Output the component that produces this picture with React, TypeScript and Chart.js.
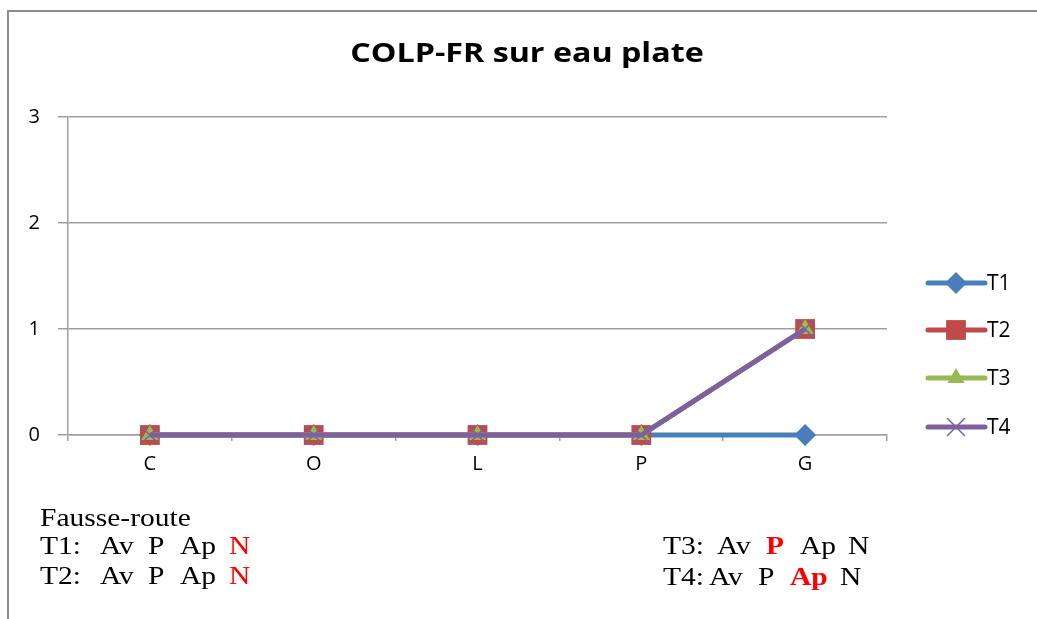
import React, { useEffect, useRef } from "react";
import { Chart, registerables } from "chart.js";

Chart.register(...registerables);

const categories = ["C", "O", "L", "P", "G"];
const seriesNames = ["T1", "T2", "T3", "T4"];
const t1Values = [0, 0, 0, 0, 0];
const t2Values = [0, 0, 0, 0, 1];
const t3Values = [0, 0, 0, 0, 1];
const t4Values = [0, 0, 0, 0, 1];
const yTicks = [0, 1, 2, 3];
const titleText = "COLP-FR sur eau plate";

const colors = ["#4A7EBB", "#BE4B48", "#98B954", "#7D60A0"];
const pointStyles = ["rectRot", "rect", "triangle", "crossRot"];
const pointRadii = [11, 14, 10, 12];

function drawPoint(ctx: CanvasRenderingContext2D, style: string, r: number, x: number, y: number) {
  ctx.beginPath();
  if (style === "rectRot") {
    ctx.moveTo(x, y - r);
    ctx.lineTo(x + r, y);
    ctx.lineTo(x, y + r);
    ctx.lineTo(x - r, y);
    ctx.closePath();
    ctx.fill();
  } else if (style === "rect") {
    const s = Math.SQRT1_2 * r;
    ctx.rect(x - s, y - s, 2 * s, 2 * s);
    ctx.fill();
  } else if (style === "triangle") {
    ctx.moveTo(x, y - r);
    ctx.lineTo(x + r * 0.866, y + r * 0.5);
    ctx.lineTo(x - r * 0.866, y + r * 0.5);
    ctx.closePath();
    ctx.fill();
  } else if (style === "crossRot") {
    const s = Math.SQRT1_2 * r;
    ctx.moveTo(x - s, y - s);
    ctx.lineTo(x + s, y + s);
    ctx.moveTo(x + s, y - s);
    ctx.lineTo(x - s, y + s);
    ctx.stroke();
  }
}

const overlayPlugin = {
  id: "overlay",
  afterDraw(chart: any) {
    const ctx = chart.ctx;
    ctx.save();
    // title
    ctx.save();
    ctx.font = "bold 26px 'Open Sans'";
    ctx.fillStyle = "#000";
    ctx.textAlign = "center";
    ctx.textBaseline = "alphabetic";
    ctx.translate(527, 62);
    ctx.scale(1.24, 1);
    ctx.fillText(titleText, 0, 0);
    ctx.restore();
    // legend
    const ys = [283, 330, 378, 427];
    chart.data.datasets.forEach((ds: any, i: number) => {
      const y = ys[i];
      ctx.strokeStyle = ds.borderColor;
      ctx.lineWidth = 5;
      ctx.lineCap = "round";
      ctx.beginPath();
      ctx.moveTo(928, y);
      ctx.lineTo(985, y);
      ctx.stroke();
      ctx.lineWidth = 1.5;
      ctx.fillStyle = ds.backgroundColor;
      ctx.strokeStyle = ds.borderColor;
      drawPoint(ctx, ds.pointStyle, ds.pointRadius, 956, y);
      ctx.fillStyle = "#000";
      ctx.font = "21px 'Open Sans'";
      ctx.textAlign = "left";
      ctx.textBaseline = "middle";
      ctx.fillText(ds.label, 987, y + 1);
    });
    ctx.restore();
  },
};

type Tok = { t: string; x: number; red?: boolean; bold?: boolean };
const noteLines: { top: number; toks: Tok[] }[] = [
  { top: 505, toks: [{ t: "Fausse-route", x: 40 }] },
  {
    top: 533,
    toks: [
      { t: "T1:", x: 40 },
      { t: "Av", x: 100 },
      { t: "P", x: 148 },
      { t: "Ap", x: 180 },
      { t: "N", x: 229, red: true },
    ],
  },
  {
    top: 563,
    toks: [
      { t: "T2:", x: 40 },
      { t: "Av", x: 100 },
      { t: "P", x: 148 },
      { t: "Ap", x: 180 },
      { t: "N", x: 229, red: true },
    ],
  },
  {
    top: 533,
    toks: [
      { t: "T3:", x: 663 },
      { t: "Av", x: 717 },
      { t: "P", x: 766, red: true, bold: true },
      { t: "Ap", x: 800 },
      { t: "N", x: 848 },
    ],
  },
  {
    top: 564,
    toks: [
      { t: "T4:", x: 663 },
      { t: "Av", x: 709 },
      { t: "P", x: 758 },
      { t: "Ap", x: 790, red: true, bold: true },
      { t: "N", x: 840 },
    ],
  },
];

export default function App() {
  const canvasRef = useRef<HTMLCanvasElement | null>(null);

  useEffect(() => {
    document.body.style.margin = "0";
    const seriesValues = [t1Values, t2Values, t3Values, t4Values];
    const chart = new Chart(canvasRef.current as HTMLCanvasElement, {
      type: "line",
      data: {
        labels: categories,
        datasets: seriesNames.map((name, i) => ({
          label: name,
          data: seriesValues[i],
          borderColor: colors[i],
          backgroundColor: colors[i],
          pointBackgroundColor: colors[i],
          pointBorderColor: colors[i],
          pointBorderWidth: pointStyles[i] === "crossRot" ? 1.5 : 0,
          borderWidth: 5,
          pointStyle: pointStyles[i],
          pointRadius: pointRadii[i],
          pointHoverRadius: pointRadii[i],
          tension: 0,
          clip: false,
          order: 4 - i,
        })),
      },
      plugins: [overlayPlugin],
      options: {
        animation: false,
        responsive: false,
        events: [],
        layout: { padding: { left: 0, top: 117, right: 150, bottom: 0 } },
        plugins: {
          legend: { display: false },
          title: { display: false },
          tooltip: { enabled: false },
        },
        scales: {
          x: {
            type: "category",
            offset: true,
            border: { display: true, color: "#A0A0A0", width: 1.5 },
            grid: {
              offset: true,
              drawOnChartArea: false,
              drawTicks: true,
              tickLength: 6,
              color: "#A0A0A0",
              lineWidth: 1.5,
            },
            ticks: {
              color: "#000",
              font: { family: "'Open Sans'", size: 20 },
              padding: 11,
            },
            afterFit: (scale: any) => {
              scale.height = 184;
            },
          },
          y: {
            min: 0,
            max: 3,
            border: { display: true, color: "#A0A0A0", width: 1.5 },
            grid: {
              color: "#A0A0A0",
              lineWidth: 1.5,
              tickLength: 10,
            },
            ticks: {
              stepSize: 1,
              color: "#000",
              font: { family: "'Open Sans'", size: 20 },
              padding: 18,
              callback: (v: any) => (yTicks.includes(v) ? String(v) : ""),
            },
            afterFit: (scale: any) => {
              scale.width = 68;
            },
          },
        },
      } as any,
    });
    return () => chart.destroy();
  }, []);

  return (
    <div style={{ position: "relative", width: 1037, height: 619, background: "#fff", overflow: "hidden" }}>
      <canvas ref={canvasRef} width={1037} height={619} style={{ position: "absolute", left: 0, top: 0 }} />
      <div style={{ position: "absolute", left: 7, top: 10, width: 1040, height: 2, background: "#8C8C8C" }} />
      <div style={{ position: "absolute", left: 7, top: 10, width: 2, height: 620, background: "#8C8C8C" }} />
      {noteLines.map((line, li) =>
        line.toks.map((tok, ti) => (
          <div
            key={li + "-" + ti}
            style={{
              position: "absolute",
              left: tok.x,
              top: line.top,
              fontFamily: "'Liberation Serif', 'Times New Roman', serif",
              fontSize: 25,
              lineHeight: "25px",
              whiteSpace: "pre",
              color: tok.red ? "#FF0000" : "#000",
              fontWeight: tok.bold ? "bold" : "normal",
              transform: "scaleX(1.18)",
              transformOrigin: "left top",
            }}
          >
            {tok.t}
          </div>
        ))
      )}
    </div>
  );
}
